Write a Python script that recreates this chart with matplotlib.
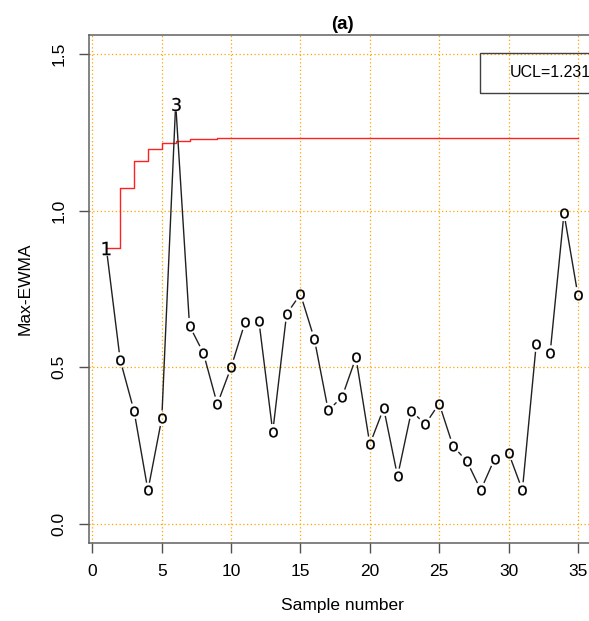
import numpy as np
import matplotlib
matplotlib.use('Agg')
import matplotlib.pyplot as plt
from matplotlib.patches import Rectangle

plt.rcParams['font.family'] = ['Liberation Sans', 'DejaVu Sans']

# Max-EWMA statistic per sample
sample = np.arange(1, 36)
max_ewma = [0.88, 0.523, 0.360, 0.107, 0.337, 1.341, 0.632, 0.545, 0.382, 0.500,
            0.643, 0.648, 0.294, 0.670, 0.733, 0.590, 0.362, 0.405, 0.531, 0.254,
            0.369, 0.152, 0.360, 0.318, 0.384, 0.248, 0.200, 0.108, 0.208, 0.227,
            0.108, 0.574, 0.545, 0.991, 0.731]
# time-varying upper control limit
ucl = [0.879, 1.073, 1.157, 1.195, 1.214, 1.223, 1.227, 1.229, 1.230, 1.231,
       1.231, 1.231, 1.231, 1.231, 1.231, 1.231, 1.231, 1.231, 1.231, 1.231,
       1.231, 1.231, 1.231, 1.231, 1.231, 1.231, 1.231, 1.231, 1.231, 1.231,
       1.231, 1.231, 1.231, 1.231, 1.231]
ucl_label = 'UCL=1.231'
# symbol per point: out-of-control samples get a number
symbols = ['o'] * 35
symbols[0] = '1'
symbols[5] = '3'

xticks = [0, 5, 10, 15, 20, 25, 30, 35]
yticks = [0.0, 0.5, 1.0, 1.5]

fig = plt.figure(figsize=(5.89, 6.21), dpi=100)
ax = fig.add_axes([0.1511, 0.1261, 0.862, 0.8175])
ax.set_xlim(-0.25, 36.36)
ax.set_ylim(-0.06, 1.56)

# dotted orange grid
for v in xticks:
    ax.axvline(v, color='#FFA500', lw=0.9, ls=(0, (1, 2)), zorder=0)
for v in yticks:
    ax.axhline(v, color='#FFA500', lw=0.9, ls=(0, (1, 2)), zorder=0)

# UCL as a step line
ax.step(sample, ucl, where='post', color='#FF2020', lw=1.0, zorder=2)

# connecting segments with gaps around symbols (R type="b" style)
pts = ax.transData.transform(np.column_stack([sample, max_ewma]))
gap = 8.5
inv = ax.transData.inverted()
for p0, p1 in zip(pts[:-1], pts[1:]):
    d = p1 - p0
    L = np.hypot(*d)
    if L <= 2 * gap:
        continue
    u = d / L
    seg = inv.transform(np.array([p0 + u * gap, p1 - u * gap]))
    ax.plot(seg[:, 0], seg[:, 1], color='#202020', lw=1.0, zorder=3)

for xi, yi, s in zip(sample, max_ewma, symbols):
    size = 7.2 if s == 'o' else 9.5
    ax.plot(xi, yi, marker='$\\mathrm{%s}$' % s, color='black', ms=size,
            mew=0.15, ls='none', zorder=4)

# legend box in the top right
ax.add_patch(Rectangle((27.96, 1.376), 10, 0.127, fill=False,
                       edgecolor='#404040', lw=1.0, zorder=5))
ax.text(30.12, 1.4395, ucl_label, fontsize=11.5, va='center', ha='left', zorder=6)

ax.set_xticks(xticks)
ax.set_yticks(yticks)
ax.set_yticklabels(['0.0', '0.5', '1.0', '1.5'], rotation=90, va='center')
ax.tick_params(axis='both', length=7, width=1.0, color='#505050',
               labelsize=12.5, direction='out')
ax.tick_params(axis='x', pad=8)
ax.tick_params(axis='y', pad=9)
for sp in ax.spines.values():
    sp.set_color('#606060')
    sp.set_linewidth(1.1)

ax.set_title('(a)', fontsize=13.5, fontweight='bold', pad=4)
ax.set_xlabel('Sample number', fontsize=12.5, labelpad=14)
ax.set_ylabel('Max-EWMA', fontsize=12.5, labelpad=14)

fig.savefig('out.png', dpi=100)
